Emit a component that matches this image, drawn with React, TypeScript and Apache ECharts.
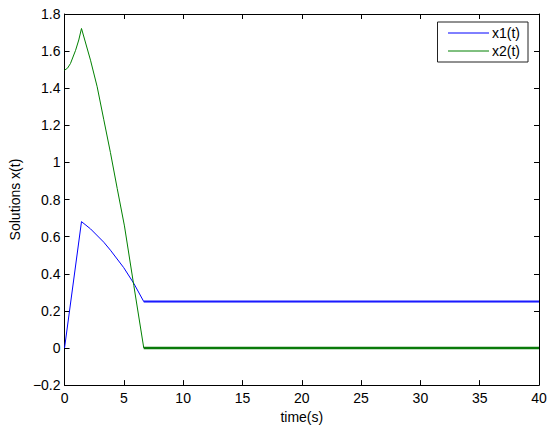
import React, { useEffect, useRef } from "react";
import * as echarts from "echarts";

// Data
const x1Time = [0, 1.43, 2.19, 3.31, 3.87, 4.99, 5.84, 6.68, 40];
const x1Value = [0, 0.681, 0.642, 0.57, 0.527, 0.433, 0.348, 0.25, 0.25];
const x2Time = [0, 0.25, 0.5, 0.93, 1.2, 1.43, 2.19, 2.75, 3.31, 3.87, 4.44, 5.05, 5.84, 6.68, 40];
const x2Value = [1.497, 1.508, 1.533, 1.604, 1.66, 1.722, 1.551, 1.408, 1.23, 1.053, 0.86, 0.658, 0.337, 0, 0];
const settleTime = 6.68;
const seriesNames = ["x1(t)", "x2(t)"];
const xTickLabels = [0, 5, 10, 15, 20, 25, 30, 35, 40];
const yTickLabels = [-0.2, 0, 0.2, 0.4, 0.6, 0.8, 1, 1.2, 1.4, 1.6, 1.8];

const FONT = '"Liberation Sans", Arial, Helvetica, sans-serif';

function zip(t: number[], v: number[]) {
  return t.map((x, i) => [x, v[i]]);
}

export default function App() {
  const ref = useRef<HTMLDivElement>(null);
  useEffect(() => {
    if (!ref.current) return;
    const chart = echarts.init(ref.current, undefined, { renderer: "svg" });
    const x1 = zip(x1Time, x1Value);
    const x2 = zip(x2Time, x2Value);
    const x1Flat = x1.filter((p) => p[0] >= settleTime);
    const x2Flat = x2.filter((p) => p[0] >= settleTime);
    const xMin = xTickLabels[0];
    const xMax = xTickLabels[xTickLabels.length - 1];
    const xInt = xTickLabels[1] - xTickLabels[0];
    const yMin = yTickLabels[0];
    const yMax = yTickLabels[yTickLabels.length - 1];
    const yInt = 0.2;
    const axisLine = { show: true, onZero: false, lineStyle: { color: "#000", width: 1 } };
    const tick = { show: true, inside: true, length: 5, lineStyle: { color: "#000", width: 1 } };
    const label = { color: "#000", fontSize: 14, fontFamily: FONT };
    chart.setOption({
      animation: false,
      backgroundColor: "#fff",
      grid: { left: 64, right: 11, top: 14, bottom: 41, containLabel: false },
      legend: {
        data: seriesNames,
        orient: "vertical",
        right: 22,
        top: 22,
        padding: [4, 8, 4, 10],
        itemWidth: 41,
        itemHeight: 14,
        itemGap: 4,
        backgroundColor: "#fff",
        borderColor: "#222",
        borderWidth: 1,
        borderRadius: 0,
        itemStyle: { opacity: 0 },
        lineStyle: { width: 1 },
        textStyle: { color: "#000", fontSize: 14, fontFamily: FONT, padding: [0, 0, 0, -2] },
      },
      xAxis: [
        {
          type: "value",
          min: xMin,
          max: xMax,
          interval: xInt,
          name: "time(s)",
          nameLocation: "middle",
          nameGap: 22,
          nameTextStyle: { color: "#000", fontSize: 14, fontFamily: FONT, verticalAlign: "top" },
          axisLine,
          axisTick: tick,
          axisLabel: { ...label, margin: 6 },
          splitLine: { show: false },
        },
        {
          type: "value",
          position: "top",
          min: xMin,
          max: xMax,
          interval: xInt,
          axisLine,
          axisTick: tick,
          axisLabel: { show: false },
          splitLine: { show: false },
        },
      ],
      yAxis: [
        {
          type: "value",
          min: yMin,
          max: yMax,
          interval: yInt,
          name: "Solutions x(t)",
          nameLocation: "middle",
          nameGap: 41,
          nameTextStyle: { color: "#000", fontSize: 14, fontFamily: FONT },
          axisLine,
          axisTick: tick,
          axisLabel: {
            ...label,
            margin: 4,
            formatter: (v: number) => String(Number(v.toFixed(1))).replace("-", "\u2212"),
          },
          splitLine: { show: false },
        },
        {
          type: "value",
          position: "right",
          min: yMin,
          max: yMax,
          interval: yInt,
          axisLine,
          axisTick: tick,
          axisLabel: { show: false },
          splitLine: { show: false },
        },
      ],
      series: [
        {
          name: seriesNames[0],
          type: "line",
          data: x1,
          symbol: "none",
          color: "#0000ff",
          lineStyle: { color: "#0000ff", width: 1 },
          z: 3,
        },
        {
          name: seriesNames[1],
          type: "line",
          data: x2,
          symbol: "none",
          color: "#008000",
          lineStyle: { color: "#008000", width: 1 },
          z: 3,
        },
        {
          name: seriesNames[0],
          type: "line",
          data: x1Flat,
          symbol: "none",
          color: "#0000ff",
          lineStyle: { color: "#1a1aff", width: 2 },
          z: 3,
        },
        {
          name: seriesNames[1],
          type: "line",
          data: x2Flat,
          symbol: "none",
          color: "#008000",
          lineStyle: { color: "#0a7a0a", width: 2.5 },
          z: 3,
        },
      ],
    });
    return () => chart.dispose();
  }, []);
  return (
    <div
      ref={ref}
      style={{ position: "absolute", left: 0, top: 0, width: 550, height: 429, background: "#fff" }}
    />
  );
}
